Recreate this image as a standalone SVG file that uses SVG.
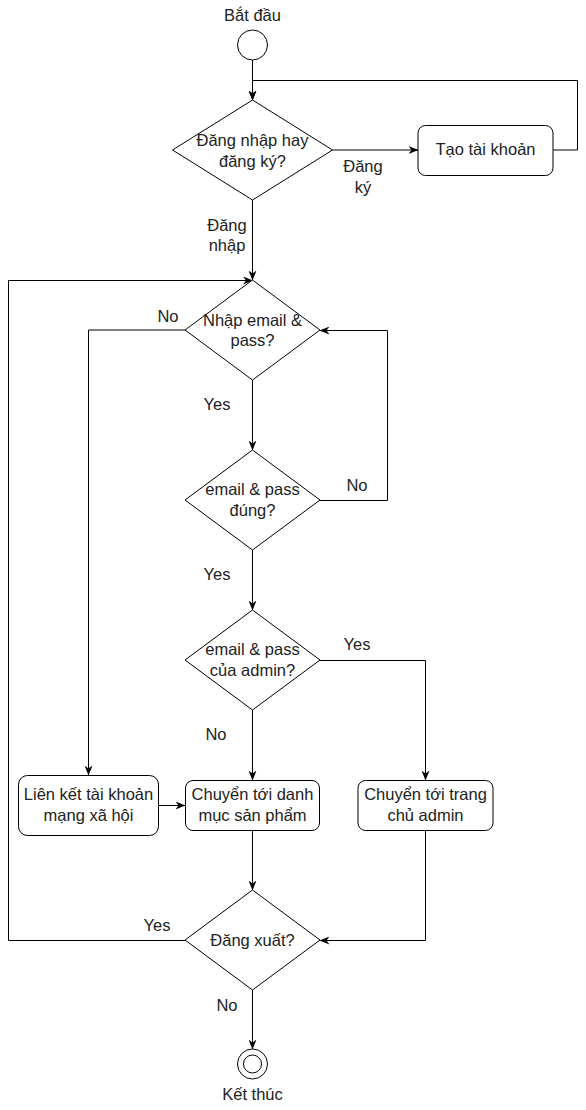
<svg xmlns="http://www.w3.org/2000/svg" width="586" height="1110" viewBox="0 0 586 1110">
<defs>
<marker id="arr" markerUnits="userSpaceOnUse" viewBox="0 0 10 8" markerWidth="10" markerHeight="8" refX="9.5" refY="4" orient="auto">
<path d="M0,0 L10,4 L0,8 L3,4 Z" fill="#000"/>
</marker>
<style>
.shape{fill:#fff;stroke:#000;stroke-width:1}
.edge{fill:none;stroke:#000;stroke-width:1;marker-end:url(#arr)}
text{font-family:"Liberation Sans",Arial,sans-serif;font-size:16.5px;fill:#222}
.c{text-anchor:middle}
</style>
</defs>
<rect width="586" height="1110" fill="#fff"/>
<g id="connectors">
<path class="edge" d="M252.5,60 L252.5,100"/>
<path class="edge" d="M332.5,150 L418,150"/>
<path class="edge" d="M553,150 L577.5,150 L577.5,80.5 L252.5,80.5 L252.5,100"/>
<path class="edge" d="M252.5,200 L252.5,280"/>
<path class="edge" d="M185,330 L88.5,330 L88.5,775"/>
<path class="edge" d="M252.5,380 L252.5,450"/>
<path class="edge" d="M320,500.5 L387.5,500.5 L387.5,330.5 L320,330.5"/>
<path class="edge" d="M252.5,550 L252.5,610"/>
<path class="edge" d="M320,660.5 L425.5,660.5 L425.5,780"/>
<path class="edge" d="M252.5,710 L252.5,780"/>
<path class="edge" d="M158,805.5 L185,805.5"/>
<path class="edge" d="M252.5,830 L252.5,890"/>
<path class="edge" d="M425.5,830 L425.5,940.5 L320,940.5"/>
<path class="edge" d="M185,940.5 L8.5,940.5 L8.5,280.5 L252.5,280.5"/>
<path class="edge" d="M252.5,990 L252.5,1049"/>
<text class="c" x="363" y="172">Đăng</text>
<text class="c" x="363" y="193">ký</text>
<text class="c" x="227" y="231">Đăng</text>
<text class="c" x="227" y="251">nhập</text>
<text class="c" x="168" y="322">No</text>
<text class="c" x="217" y="410">Yes</text>
<text class="c" x="357" y="491">No</text>
<text class="c" x="217" y="580">Yes</text>
<text class="c" x="357" y="650">Yes</text>
<text class="c" x="216" y="740">No</text>
<text class="c" x="157" y="931">Yes</text>
<text class="c" x="227" y="1011">No</text>
</g>
<g id="start">
<circle class="shape" cx="252.5" cy="45" r="15"/>
<text class="c" x="252.5" y="21">Bắt đầu</text>
</g>
<g id="d1">
<polygon class="shape" points="252.5,100 332.5,150 252.5,200 172.5,150"/>
<text class="c" x="252.5" y="146">Đăng nhập hay</text>
<text class="c" x="252.5" y="167">đăng ký?</text>
</g>
<g id="tao">
<rect class="shape" x="418" y="125.5" width="135" height="50" rx="7.5"/>
<text class="c" x="485.5" y="155">Tạo tài khoản</text>
</g>
<g id="d2">
<polygon class="shape" points="252.5,280 320,330 252.5,380 185,330"/>
<text class="c" x="252.5" y="326">Nhập email &amp;</text>
<text class="c" x="252.5" y="346">pass?</text>
</g>
<g id="d3">
<polygon class="shape" points="252.5,450 320,500 252.5,550 185,500"/>
<text class="c" x="252.5" y="495">email &amp; pass</text>
<text class="c" x="252.5" y="516">đúng?</text>
</g>
<g id="d4">
<polygon class="shape" points="252.5,610 320,660 252.5,710 185,660"/>
<text class="c" x="252.5" y="655">email &amp; pass</text>
<text class="c" x="252.5" y="676">của admin?</text>
</g>
<g id="lienket">
<rect class="shape" x="18.5" y="775.5" width="140" height="60" rx="9"/>
<text class="c" x="88.5" y="800">Liên kết tài khoản</text>
<text class="c" x="88.5" y="821">mạng xã hội</text>
</g>
<g id="danhmuc">
<rect class="shape" x="185.5" y="780.5" width="134" height="50" rx="7.5"/>
<text class="c" x="252.5" y="800">Chuyển tới danh</text>
<text class="c" x="252.5" y="821">mục sản phẩm</text>
</g>
<g id="admin">
<rect class="shape" x="358" y="780.5" width="135" height="50" rx="7.5"/>
<text class="c" x="425.5" y="800">Chuyển tới trang</text>
<text class="c" x="425.5" y="821">chủ admin</text>
</g>
<g id="d5">
<polygon class="shape" points="252.5,890 320,940 252.5,990 185,940"/>
<text class="c" x="252.5" y="946">Đăng xuất?</text>
</g>
<g id="end">
<circle class="shape" cx="252.5" cy="1064" r="15"/>
<circle class="shape" cx="252.5" cy="1064" r="9"/>
<text class="c" x="252.5" y="1100">Kết thúc</text>
</g>
</svg>
